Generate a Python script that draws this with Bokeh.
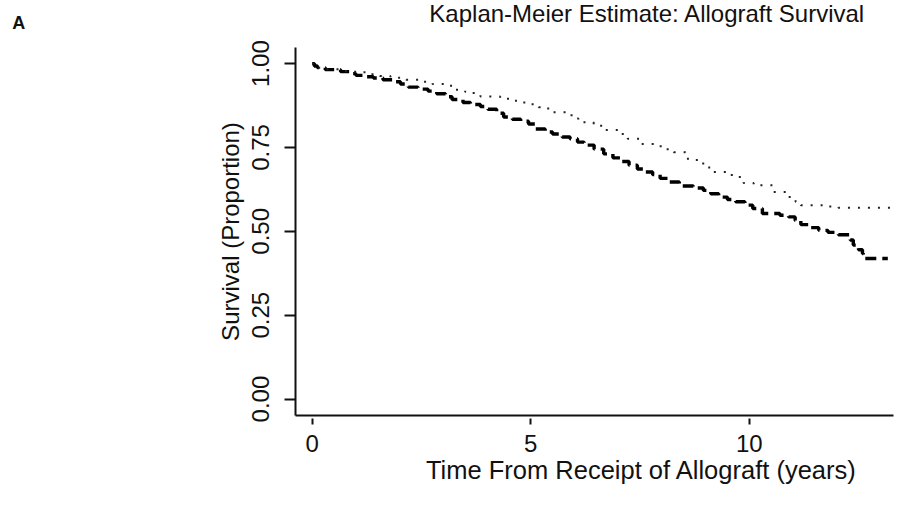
from bokeh.plotting import figure
from bokeh.models import Range1d, FixedTicker, Label
from bokeh.embed import file_html
from bokeh.resources import INLINE

# ---- data ----
title_text = "Kaplan-Meier Estimate: Allograft Survival"
x_label = "Time From Receipt of Allograft (years)"
y_label = "Survival (Proportion)"
panel_letter = "A"

x_ticks = [0, 5, 10]
x_tick_labels = ["0", "5", "10"]
y_ticks = [0.0, 0.25, 0.5, 0.75, 1.0]
y_tick_labels = ["0.00", "0.25", "0.50", "0.75", "1.00"]

# dashed curve (step function)
dash_t = [0.00, 0.05, 0.12, 0.30, 0.65, 0.85, 1.00, 1.20, 1.40, 1.62, 1.85, 2.02,
          2.20, 2.42, 2.65, 2.85, 3.05, 3.20, 3.45, 3.62, 3.85, 4.02, 4.22, 4.38,
          4.58, 4.77, 4.95, 5.10, 5.33, 5.50, 5.72, 5.90, 6.07, 6.22, 6.45, 6.67,
          6.88, 7.06, 7.25, 7.44, 7.62, 7.79, 7.96, 8.13, 8.40, 8.72, 8.95, 9.12,
          9.30, 9.50, 9.69, 9.90, 10.08, 10.30, 10.70, 10.90, 11.05, 11.18, 11.40,
          11.59, 11.80, 12.04, 12.31, 12.38, 12.50, 12.59, 12.61, 13.17]
dash_s = [1.000, 0.993, 0.988, 0.982, 0.976, 0.970, 0.965, 0.961, 0.957, 0.952, 0.946, 0.939,
          0.930, 0.924, 0.918, 0.910, 0.901, 0.893, 0.884, 0.878, 0.872, 0.864, 0.852, 0.841,
          0.834, 0.828, 0.820, 0.805, 0.796, 0.790, 0.781, 0.776, 0.766, 0.757, 0.745, 0.731,
          0.719, 0.708, 0.697, 0.686, 0.677, 0.669, 0.658, 0.647, 0.635, 0.629, 0.622, 0.612,
          0.602, 0.595, 0.588, 0.578, 0.568, 0.553, 0.548, 0.543, 0.532, 0.520, 0.511,
          0.503, 0.497, 0.490, 0.474, 0.459, 0.445, 0.434, 0.419, 0.419]

# dotted curve (step function)
dot_t = [0.00, 0.05, 0.12, 0.30, 0.65, 0.90, 1.10, 1.27, 1.55, 1.79, 2.15, 2.52, 2.75,
         3.10, 3.28, 3.50, 3.62, 3.85, 4.30, 4.54, 4.80, 4.95, 5.18, 5.40, 5.52, 5.85,
         6.00, 6.09, 6.44, 6.71, 7.00, 7.22, 7.51, 7.86, 8.10, 8.27, 8.54, 8.80, 9.00,
         9.18, 9.60, 9.87, 10.10, 10.55, 10.85, 11.06, 11.18, 11.80, 12.04, 13.28]
dot_s = [1.000, 0.993, 0.988, 0.983, 0.978, 0.976, 0.974, 0.968, 0.963, 0.958, 0.952, 0.946, 0.939,
         0.934, 0.922, 0.916, 0.912, 0.902, 0.895, 0.889, 0.884, 0.879, 0.870, 0.862, 0.855, 0.846,
         0.836, 0.825, 0.815, 0.802, 0.790, 0.776, 0.760, 0.754, 0.745, 0.736, 0.716, 0.702, 0.690,
         0.677, 0.662, 0.644, 0.637, 0.617, 0.602, 0.588, 0.578, 0.574, 0.570, 0.570]

FONT = "Liberation Sans"
INK = "#111111"

p = figure(width=904, height=514, output_backend="svg", toolbar_location=None,
           x_range=Range1d(-0.382, 13.30), y_range=Range1d(-0.049, 1.048),
           min_border_left=295, min_border_right=11, min_border_top=43,
           min_border_bottom=99)
p.outline_line_color = None
p.xgrid.visible = False
p.ygrid.visible = False
p.background_fill_color = "white"
p.border_fill_color = "white"

p.step(dash_t, dash_s, mode="after", line_color="black", line_width=3.4,
       line_dash="11 6")
p.step(dot_t, dot_s, mode="after", line_color="#222222", line_width=2,
       line_dash="2 8")

# y axis
ya = p.yaxis[0]
ya.ticker = FixedTicker(ticks=y_ticks)
ya.major_label_overrides = dict(zip(y_ticks, y_tick_labels))
ya.major_label_orientation = "vertical"
ya.minor_tick_line_color = None
ya.major_tick_in = 0
ya.major_tick_out = 11
ya.major_tick_line_width = 2
ya.major_tick_line_color = INK
ya.axis_line_width = 2
ya.axis_line_color = INK
ya.major_label_text_font = FONT
ya.major_label_text_font_size = "24px"
ya.major_label_text_color = INK
ya.major_label_standoff = 15
ya.axis_label = y_label
ya.axis_label_text_font = FONT
ya.axis_label_text_font_size = "24px"
ya.axis_label_text_font_style = "normal"
ya.axis_label_text_color = INK
ya.axis_label_standoff = 6

# x axis
xa = p.xaxis[0]
xa.ticker = FixedTicker(ticks=x_ticks)
xa.major_label_overrides = dict(zip(x_ticks, x_tick_labels))
xa.minor_tick_line_color = None
xa.major_tick_in = -3
xa.major_tick_out = 9
xa.major_tick_line_width = 2
xa.major_tick_line_color = INK
xa.axis_line_width = 2
xa.axis_line_color = INK
xa.major_label_text_font = FONT
xa.major_label_text_font_size = "24px"
xa.major_label_text_color = INK
xa.major_label_standoff = 10

# title, x label and panel letter placed in the side panels (not clipped)
p.add_layout(Label(x=7.67, y=34, y_units="screen", text=title_text,
                   text_align="center", text_baseline="alphabetic",
                   text_font=FONT, text_font_size="24px", text_color=INK), "above")
p.add_layout(Label(x=-6.86, y=-2, y_units="screen", text=panel_letter,
                   text_align="left", text_baseline="alphabetic",
                   text_font=FONT, text_font_size="18px",
                   text_font_style="bold", text_color=INK), "above")
p.add_layout(Label(x=7.535, y=13, y_units="screen", text=x_label,
                   text_align="center", text_baseline="alphabetic",
                   text_font=FONT, text_font_size="25.5px", text_color=INK), "below")

open("out.html", "w").write(file_html(p, INLINE))
